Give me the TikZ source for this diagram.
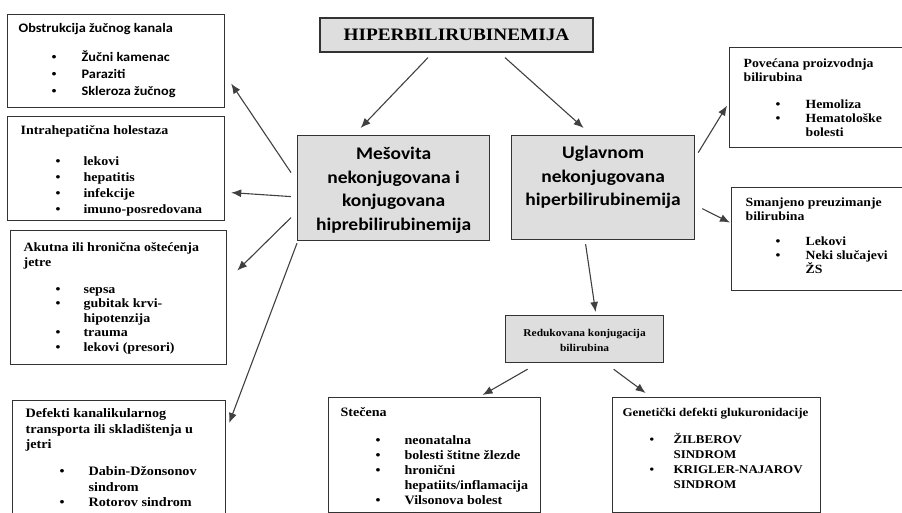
\documentclass[tikz,border=0pt]{standalone}
\usepackage{fontspec}
\setmainfont{Liberation Serif}[FakeStretch=1.1]
\newfontfamily\calibrifont{Carlito}[FakeStretch=1.1]
\usetikzlibrary{arrows.meta, calc}
\newlength{\bulind}
\newlength{\txtind}
\setlength{\bulind}{33pt}
\setlength{\txtind}{63pt}
\newcommand{\bul}[1]{\par\noindent\hangindent=\txtind\hangafter=1%
  \hspace*{\bulind}\makebox[\dimexpr\txtind-\bulind\relax][l]{\rmfamily\textbullet}#1}
\newcommand{\boxtext}[4]{\parbox[t][#2pt][t]{#1pt}{\raggedright
  \lineskiplimit=-100pt\rule{0pt}{#3pt}#4}}

\begin{document}
\begin{tikzpicture}[x=1pt, y=-1pt,
  >={Latex[length=10pt,width=8pt]},
  ->,
  listbox/.style={
    draw=black!80,
    line width=1.2pt,
    fill=white,
    anchor=north west,
    inner ysep=0pt,
    inner xsep=12pt
  },
  graybox/.style={
    listbox,
    fill=black!13,
    inner xsep=0pt
  },
  arrow/.style={
    draw=black!75,
    line width=1.1pt
  }
  ]

  \useasboundingbox (0,0) rectangle (902,513);
  \clip (0,0) rectangle (902,513);

  \pgfmathsetmacro{\dx}{6}

  \node [graybox, anchor=center, minimum width=273pt, minimum height=34pt] (hiper)
  at (456.5,35) {\fontsize{17.5}{20}\selectfont\bfseries HIPERBILIRUBINEMIJA};

  \node [graybox] (mesov) at (297,135) {\boxtext{192}{105}{24}{\centering
      \calibrifont\bfseries\fontsize{17.7}{23.5}\selectfont%
      Mešovita\\nekonjugovana i\\konjugovana\\hiprebilirubinemija}};
  \node [graybox] (uglav) at (511,135) {\boxtext{183}{104}{23}{\centering
      \calibrifont\bfseries\fontsize{17.7}{23.5}\selectfont%
      Uglavnom\\nekonjugovana\\hiperbilirubinemija}};
  \node [graybox] (reduk) at (505,315) {\boxtext{158}{47}{20.5}{\centering
      \bfseries\fontsize{10.4}{15}\selectfont%
      Redukovana konjugacija\\bilirubina}};

  % levo
  \node [listbox, inner xsep=11pt] (obstr) at (7,14) {\boxtext{195}{93}{18}{%
      \calibrifont\bfseries\fontsize{13}{17}\selectfont%
      Obstrukcija žučnog kanala\par\vspace{12pt}
      \bul{Žučni kamenac}
      \bul{Paraziti}
      \bul{Skleroza žučnog}}};
  \node [listbox, inner xsep=13pt] (intra) at (7,116) {\boxtext{191}{104}{18}{%
      \bfseries\fontsize{12.7}{16}\selectfont\setlength{\bulind}{35pt}%
      Intrahepatična holestaza\par\vspace{15pt}
      \bul{lekovi}
      \bul{hepatitis}
      \bul{infekcije}
      \bul{imuno-posredovana}}};
  \node [listbox, inner xsep=13pt] (akut) at (10,230) {\boxtext{190}{134}{21}{%
      \bfseries\fontsize{12.7}{14.5}\selectfont
      \setlength{\bulind}{32pt}\setlength{\txtind}{60pt}%
      Akutna ili hronična oštećenja\\jetre\par\vspace{12.5pt}
      \bul{sepsa}
      \bul{gubitak krvi-\newline hipotenzija}
      \bul{trauma}
      \bul{lekovi (presori)}}};
  \node [listbox, inner xsep=13pt] (defek) at (12,400) {\boxtext{187}{130}{17}{%
      \bfseries\fontsize{12.9}{15.5}\selectfont\setlength{\bulind}{34pt}%
      Defekti kanalikularnog\\transporta ili skladištenja u\\jetri\par\vspace{11.5pt}
      \bul{Dabin-Džonsonov\newline sindrom}
      \bul{Rotorov sindrom}}};

  % desno
  \node [listbox, inner xsep=14pt] (povec) at (729,47) {\boxtext{162}{100}{20}{%
      \bfseries\fontsize{12.5}{14}\selectfont
      \setlength{\bulind}{32pt}\setlength{\txtind}{62pt}%
      Povećana proizvodnja\\bilirubina\par\vspace{13pt}
      \bul{Hemoliza}
      \bul{Hematološke\newline bolesti}}};
  \node [listbox, inner xsep=14pt] (smanj) at (731,187) {\boxtext{162}{103}{19}{%
      \bfseries\fontsize{12.5}{14}\selectfont
      \setlength{\bulind}{30pt}\setlength{\txtind}{60pt}%
      Smanjeno preuzimanje\\bilirubina\par\vspace{11pt}
      \bul{Lekovi}
      \bul{Neki slučajevi\newline ŽS}}};

  % dole
  \node [listbox, inner xsep=12pt] (stec) at (328,397) {\boxtext{188}{115}{19}{%
      \bfseries\fontsize{12.8}{15}\selectfont
      \setlength{\bulind}{35pt}\setlength{\txtind}{64pt}%
      Stečena\par\vspace{13pt}
      \bul{neonatalna}
      \bul{bolesti štitne žlezde}
      \bul{hronični\newline hepatiits/inflamacija}
      \bul{Vilsonova bolest}}};
  \node [listbox, inner xsep=10pt] (genet) at (612,397) {\boxtext{188}{115}{19}{%
      \bfseries\fontsize{11.8}{15}\selectfont
      \setlength{\bulind}{27pt}\setlength{\txtind}{51pt}%
      Genetički defekti glukuronidacije\par\vspace{12pt}
      \bul{ŽILBEROV\newline SINDROM}
      \bul{KRIGLER-NAJAROV\newline SINDROM}}};

  \draw [arrow] ([xshift=-28.5pt,yshift=-5pt]hiper.south) -- ([xshift=-33pt,yshift=7pt]mesov.north);
  \draw [arrow] ([xshift=48.5pt,yshift=-5pt]hiper.south) -- ([xshift=-19.5pt,yshift=7pt]uglav.north);

  \draw [arrow] ([xshift=-\dx pt,yshift=15.5pt]mesov.west) -- ([xshift=6pt,yshift=-22.5pt]obstr.east);
  \draw [arrow] ([xshift=-\dx pt,yshift=-8.5pt]mesov.west) -- ([xshift=6pt,yshift=-24pt]intra.east);
  \draw [arrow] ([xshift=-\dx pt,yshift=-29.5pt]mesov.west) -- ([xshift=10pt,yshift=27pt]akut.east);
  \draw [arrow] ([yshift=-2pt]mesov.south west) -- ([xshift=3pt,yshift=-23pt]defek.north east);

  \draw [arrow] ([xshift=3pt,yshift=35pt]uglav.east) -- ([xshift=-2pt,yshift=-8pt]povec.west);
  \draw [arrow] ([xshift=7pt,yshift=-21pt]uglav.east) -- ([xshift=-1pt,yshift=16.5pt]smanj.west);
  \draw [arrow] ([xshift=-17.5pt,yshift=-4pt]uglav.south) -- ([xshift=11pt,yshift=3pt]reduk.north);

  \draw [arrow] ([xshift=-57pt,yshift=-6pt]reduk.south) -- ([xshift=48pt,yshift=2pt]stec.north);
  \draw [arrow] ([xshift=29pt,yshift=-6pt]reduk.south) -- ([xshift=-71pt,yshift=4pt]genet.north);

\end{tikzpicture}
\end{document}
